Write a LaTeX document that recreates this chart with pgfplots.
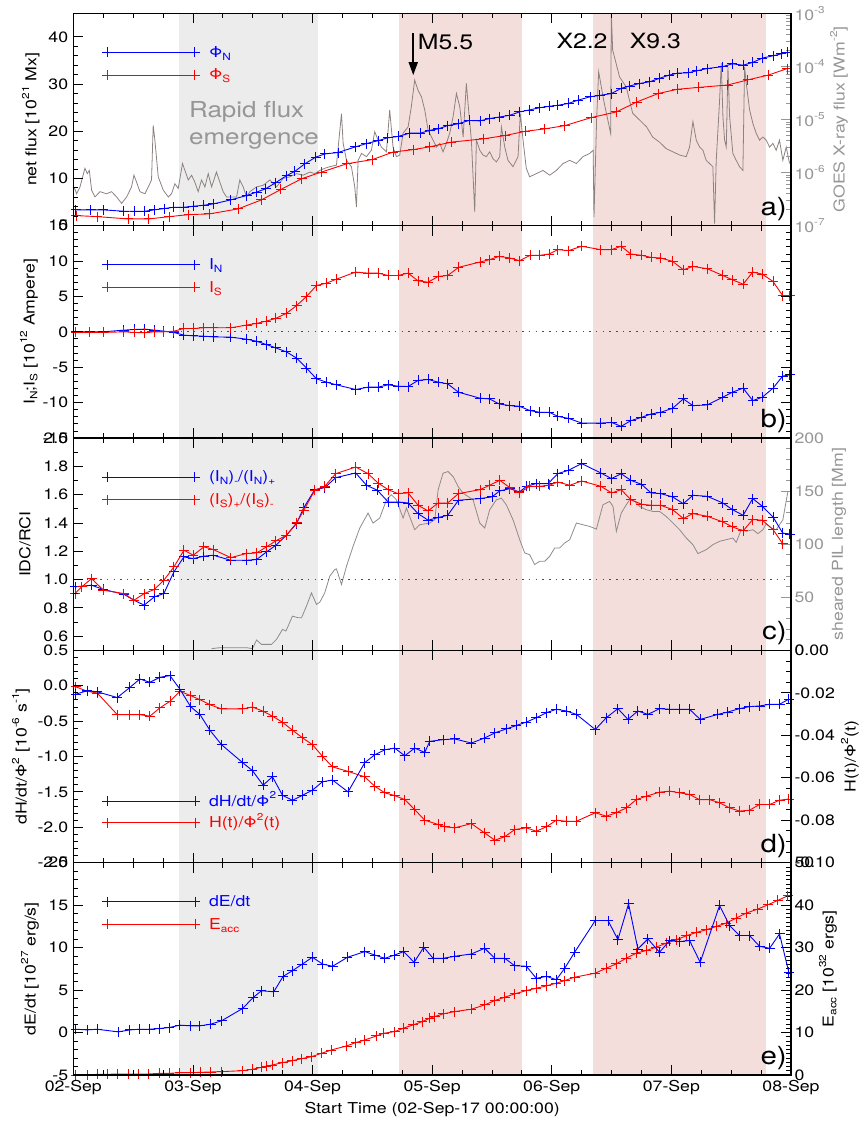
\documentclass[border=0pt]{standalone}
\usepackage{fontspec}
\setmainfont{TeX Gyre Heros}[FakeStretch=1.18]
\newfontfamily\BlueFont{TeX Gyre Heros}[FakeStretch=1.18, Color=0000FF]
\newfontfamily\RedFont{TeX Gyre Heros}[FakeStretch=1.18, Color=FF0000]
\newfontfamily\GrayFont{TeX Gyre Heros}[FakeStretch=1.18, Color=969696]
\usepackage{pgfplots}
\pgfplotsset{compat=1.18}
\usetikzlibrary{arrows.meta}

\definecolor{nblue}{RGB}{0,0,255}
\definecolor{sred}{RGB}{255,0,0}
\definecolor{bandgray}{RGB}{236,236,236}
\definecolor{bandred}{RGB}{244,222,220}
\definecolor{goesgray}{RGB}{140,130,128}
\definecolor{pilgray}{RGB}{140,140,140}
\definecolor{auxgray}{RGB}{150,150,150}

\def\ChartTickFont{\fontsize{15}{18}\selectfont}
\def\ChartBigFont{\fontsize{22}{27}\selectfont}
\def\ChartFlareFont{\fontsize{21}{25}\selectfont}
\def\ChartPanelFont{\fontsize{25}{30}\selectfont}
% small raised / lowered text without math mode
\newcommand\Sub[1]{\raisebox{-0.35ex}{\fontsize{10}{12}\selectfont #1}}
\newcommand\Sup[1]{\raisebox{0.95ex}{\fontsize{10}{12}\selectfont #1}}
\newcommand\TL[1]{\mbox{\ChartTickFont #1}}
\newcommand\GTL[1]{\mbox{\GrayFont\ChartTickFont #1}}
% tick labels of the left axis and of the time axis
\newcommand\YL[2]{\node[anchor=east, inner sep=0pt, xshift=-5pt] at (axis cs:0,#1) {\TL{#2}};}
\newcommand\XL[2]{\node[anchor=north, inner sep=0pt, yshift=-5pt] at (axis cs:#1,-5) {\TL{#2}};}

% shaded intervals: rapid emergence (gray) and flare windows (red)
\newcommand\ChartBands[2]{%
  \fill[fill=bandgray] (axis cs:0.886,#1) rectangle (axis cs:2.047,#2);
  \fill[fill=bandred]  (axis cs:2.721,#1) rectangle (axis cs:3.754,#2);
  \fill[fill=bandred]  (axis cs:4.344,#1) rectangle (axis cs:5.787,#2);}

% key: sample line from 0.284 d to 1.017 d, label starting at 1.133 d
\newcommand\KeyText[3]{\node[anchor=base west, inner sep=0pt, font=\ChartTickFont] at (axis cs:1.133,#2) {#1#3};}

\tikzset{
  nser/.style={draw=nblue, line width=0.9pt, mark=+, mark size=5pt, mark options={solid, draw=nblue, line width=0.9pt}},
  sser/.style={draw=sred, line width=0.9pt, mark=+, mark size=5pt, mark options={solid, draw=sred, line width=0.9pt}},
}

\pgfplotsset{
  panel/.style={
    scale only axis, width=717.7pt, height=212.34pt, anchor=north west,
    xmin=0, xmax=6, xtick={0,1,2,3,4,5,6}, minor x tick num=3,
    xticklabels={}, axis on top,
    /pgf/number format/assume math mode=true,
    yticklabel={\TL{\pgfmathprintnumber{\tick}}},
    label style={font=\ChartTickFont},
    axis line style={line width=1.3pt},
    major tick length=10pt, minor tick length=5pt,
    tick style={line width=0.8pt, draw=black},
  },
  leftax/.style={ytick pos=left, yticklabels={}, clip mode=individual},
  rightax/.style={xtick=\empty, ytick pos=right, yticklabel pos=right},
  gray right/.style={tick style={line width=0.8pt, draw=auxgray},
    yticklabel={\GTL{\pgfmathprintnumber{\tick}}}},
  ylab at/.style={ylabel style={at={(axis description cs:#1,0.5)}, anchor=center}},
}

\begin{document}
\begin{tikzpicture}[x=1pt,y=1pt]
\path[use as bounding box] (0,0) rectangle (863,-1125);

%% ---------------- a) net flux and GOES X-ray flux ----------------
\begin{axis}[panel, rightax, gray right, at={(73.3pt,-13.3pt)},
  ymin=-7, ymax=-3, ytick={-7,-6,-5,-4,-3},
  yticklabels={\GTL{10\Sup{-7}},\GTL{10\Sup{-6}},\GTL{10\Sup{-5}},\GTL{10\Sup{-4}},\GTL{10\Sup{-3}}},
  minor ytick={-6.699,-6.523,-6.398,-6.301,-6.222,-6.155,-6.097,-6.046,
               -5.699,-5.523,-5.398,-5.301,-5.222,-5.155,-5.097,-5.046,
               -4.699,-4.523,-4.398,-4.301,-4.222,-4.155,-4.097,-4.046,
               -3.699,-3.523,-3.398,-3.301,-3.222,-3.155,-3.097,-3.046},
  ylabel={\GrayFont GOES X-ray flux [Wm\Sup{-2}]}, ylab at=1.0669]
\ChartBands{-7}{-3}
\node[anchor=base west, inner sep=0pt, font=\ChartBigFont] at (axis cs:0.967,-4.955) {\GrayFont Rapid flux};
\node[anchor=base west, inner sep=0pt, font=\ChartBigFont] at (axis cs:0.967,-5.476) {\GrayFont emergence};
% log10 of the 1-8 A flux
\addplot[draw=goesgray, line width=0.8pt] table {
0.006 -6.27
0.028 -6.40
0.056 -6.27
0.097 -5.92
0.117 -6.02
0.134 -5.96
0.153 -6.33
0.181 -6.46
0.223 -6.36
0.278 -6.40
0.320 -6.36
0.362 -6.46
0.404 -6.58
0.446 -6.46
0.487 -6.27
0.507 -6.05
0.529 -6.18
0.557 -6.36
0.599 -6.40
0.627 -6.27
0.654 -6.14
0.668 -5.11
0.682 -5.39
0.710 -6.08
0.752 -6.33
0.794 -6.46
0.821 -6.40
0.849 -6.21
0.877 -6.30
0.913 -5.83
0.933 -5.96
0.961 -6.14
0.989 -6.05
1.016 -6.18
1.044 -6.36
1.072 -6.14
1.100 -6.27
1.128 -6.02
1.156 -6.27
1.197 -5.99
1.225 -6.18
1.253 -6.36
1.281 -6.46
1.323 -6.46
1.365 -6.46
1.392 -6.14
1.420 -6.27
1.448 -6.46
1.476 -6.36
1.532 -6.27
1.587 -6.24
1.643 -6.14
1.699 -6.27
1.754 -6.11
1.810 -6.08
1.866 -6.02
1.921 -6.05
1.977 -5.99
2.019 -6.02
2.061 -5.96
2.102 -5.92
2.144 -5.89
2.200 -5.86
2.242 -4.89
2.256 -5.45
2.284 -5.77
2.325 -5.89
2.353 -6.27
2.367 -6.65
2.381 -5.77
2.409 -5.64
2.451 -5.70
2.492 -5.58
2.520 -5.23
2.548 -5.39
2.576 -5.52
2.618 -5.61
2.645 -4.82
2.673 -5.52
2.701 -5.70
2.729 -5.67
2.757 -5.26
2.799 -5.14
2.826 -4.76
2.854 -4.26
2.882 -4.45
2.910 -4.57
2.938 -4.82
2.966 -5.20
3.008 -5.39
3.036 -5.52
3.064 -5.45
3.091 -5.61
3.119 -5.45
3.147 -5.26
3.175 -4.95
3.203 -4.51
3.231 -4.76
3.259 -5.33
3.286 -4.32
3.300 -4.70
3.328 -5.39
3.356 -6.74
3.370 -5.39
3.398 -5.58
3.425 -5.67
3.453 -5.70
3.481 -5.61
3.509 -5.74
3.537 -5.80
3.565 -5.70
3.579 -5.14
3.607 -5.52
3.634 -5.77
3.676 -5.89
3.718 -5.70
3.737 -4.89
3.760 -5.39
3.787 -5.92
3.815 -6.08
3.871 -6.02
3.927 -5.96
3.983 -6.05
4.038 -5.96
4.094 -5.83
4.150 -5.77
4.206 -5.83
4.261 -5.70
4.317 -5.64
4.346 -5.58
4.353 -6.84
4.375 -5.00
4.392 -4.10
4.434 -4.64
4.492 -5.26
4.498 -3.00
4.509 -3.69
4.567 -4.20
4.623 -4.39
4.676 -4.88
4.734 -5.01
4.793 -5.14
4.843 -5.33
4.902 -5.43
4.957 -5.55
5.013 -5.61
5.069 -5.67
5.124 -5.70
5.152 -5.52
5.180 -5.04
5.208 -5.39
5.236 -5.52
5.264 -5.58
5.291 -5.77
5.319 -5.83
5.347 -5.89
5.361 -6.96
5.375 -5.77
5.403 -4.64
5.417 -3.94
5.431 -4.95
5.445 -5.39
5.459 -5.52
5.473 -4.01
5.487 -4.95
5.514 -5.64
5.542 -5.77
5.570 -5.89
5.598 -5.96
5.612 -4.01
5.626 -4.32
5.654 -4.82
5.682 -5.08
5.709 -5.26
5.737 -5.39
5.765 -5.33
5.793 -5.39
5.821 -5.52
5.849 -5.45
5.876 -5.58
5.904 -5.39
5.932 -5.77
5.960 -5.52
5.988 -5.83
};
\end{axis}

\begin{axis}[panel, leftax, at={(73.3pt,-13.3pt)},
  ymin=0, ymax=45, ytick={0,10,20,30,40}, minor y tick num=4,
  ylabel={net flux [10\Sup{21} Mx]}, ylab at=-0.0592]
\YL{0}{0}\YL{10}{10}\YL{20}{20}\YL{30}{30}\YL{40}{40}
\addplot[nser] table {
0.022 3.34
0.145 3.34
0.251 3.34
0.423 3.05
0.515 3.05
0.599 3.05
0.677 3.34
0.758 3.62
0.841 3.90
0.925 3.90
1.003 4.10
1.092 4.33
1.170 4.60
1.317 5.46
1.449 6.38
1.532 7.10
1.607 7.80
1.691 9.10
1.783 10.6
1.852 11.5
1.936 13.1
2.025 14.5
2.103 15.2
2.214 15.5
2.359 16.7
2.451 17.4
2.548 18.0
2.627 18.6
2.715 18.9
2.813 19.6
2.902 19.6
2.980 20.2
3.050 20.5
3.130 21.2
3.220 21.6
3.310 22.3
3.400 22.2
3.480 22.7
3.560 23.0
3.650 23.4
3.730 24.1
3.810 24.5
3.900 25.0
3.980 25.3
4.050 25.5
4.140 25.9
4.220 26.6
4.320 27.3
4.400 27.6
4.500 28.0
4.580 29.1
4.650 29.6
4.730 30.1
4.820 30.5
4.900 31.2
4.980 31.9
5.050 32.3
5.140 32.4
5.210 32.8
5.300 33.3
5.430 33.7
5.510 34.3
5.600 34.0
5.680 34.6
5.760 35.5
5.850 36.0
5.920 36.4
5.970 36.7
};
\addplot[sser] table {
0.023 2.13
0.202 1.91
0.459 1.42
0.632 1.42
0.802 1.91
0.966 2.34
1.136 2.48
1.378 3.55
1.573 5.46
1.735 7.66
1.908 9.93
2.075 11.35
2.284 13.1
2.501 14.0
2.674 15.6
2.840 16.1
2.980 16.7
3.160 17.7
3.430 18.4
3.610 19.1
3.780 20.0
3.940 20.5
4.110 21.2
4.330 22.9
4.540 24.1
4.710 26.2
4.890 28.0
5.050 28.9
5.230 29.3
5.470 29.8
5.640 30.9
5.810 31.9
5.970 33.3
};
% key
\addplot[nser] coordinates {(0.284,36.74) (1.017,36.74)};
\addplot[sser] coordinates {(0.284,31.93) (1.017,31.93)};
\KeyText{\BlueFont}{35.68}{Φ\Sub{N}}
\KeyText{\RedFont}{30.87}{Φ\Sub{S}}
\draw[draw=black, fill=black, -{Triangle[width=9pt,length=13pt]}, line width=1.8pt] (axis cs:2.842,40.8) -- (axis cs:2.842,31.9);
\node[anchor=base west, inner sep=0pt, font=\ChartFlareFont] at (axis cs:2.880,37.43) {M5.5};
\node[anchor=base west, inner sep=0pt, font=\ChartFlareFont] at (axis cs:4.038,37.58) {X2.2};
\node[anchor=base west, inner sep=0pt, font=\ChartFlareFont] at (axis cs:4.651,37.58) {X9.3};
\node[anchor=south east, inner sep=0pt, xshift=-4pt, yshift=5pt, font=\ChartPanelFont] at (rel axis cs:1,0) {a)};
\end{axis}

%% ---------------- b) net currents ----------------
\begin{axis}[panel, yticklabels={}, clip mode=individual, at={(73.3pt,-225.64pt)},
  ymin=-15, ymax=15, ytick={-15,-10,-5,0,5,10,15}, minor y tick num=4,
  ylabel={I\Sub{N};I\Sub{S} [10\Sup{12} Ampere]}, ylab at=-0.0617]
\ChartBands{-15}{15}
\YL{-15}{-15}\YL{-10}{-10}\YL{-5}{-5}\YL{0}{0}\YL{5}{5}\YL{10}{10}\YL{15}{15}
\draw[draw=black!70, line width=1pt, dash pattern=on 1.5pt off 5.2pt] (axis cs:0,0) -- (axis cs:6,0);
\addplot[nser] table {
0.022 0
0.139 0
0.251 0
0.423 0.24
0.515 0.33
0.599 0.38
0.677 0.24
0.757 0.10
0.841 -0.10
0.925 -0.47
1.003 -0.57
1.092 -0.62
1.170 -0.71
1.317 -0.76
1.448 -1.04
1.532 -1.33
1.615 -1.80
1.693 -2.27
1.782 -2.84
1.866 -3.70
1.949 -5.12
2.033 -6.64
2.116 -7.11
2.200 -7.49
2.361 -8.15
2.464 -7.82
2.548 -7.82
2.632 -7.49
2.715 -7.68
2.799 -7.73
2.882 -6.87
2.966 -6.73
3.050 -7.11
3.130 -7.35
3.220 -8.53
3.400 -9.38
3.480 -9.48
3.560 -10.19
3.650 -10.43
3.730 -10.52
3.820 -11.14
3.900 -11.37
3.980 -11.37
4.050 -11.94
4.140 -12.23
4.250 -12.89
4.410 -12.89
4.500 -12.80
4.580 -13.36
4.660 -12.56
4.750 -12.09
4.830 -11.61
4.910 -11.37
5.010 -10.81
5.100 -9.48
5.180 -10.43
5.300 -10.33
5.430 -9.24
5.510 -8.53
5.600 -7.96
5.680 -9.72
5.760 -9.24
5.850 -7.96
5.930 -6.26
5.990 -6.07
};
\addplot[sser] table {
0.022 -0.09
0.139 -0.09
0.251 -0.09
0.423 0
0.515 -0.09
0.599 -0.14
0.677 0
0.757 0
0.841 0.09
0.925 0.47
1.003 0.47
1.092 0.57
1.170 0.57
1.317 0.57
1.448 0.95
1.532 1.18
1.615 1.52
1.693 1.90
1.782 2.61
1.866 3.70
1.949 4.98
2.033 6.54
2.116 6.87
2.200 7.44
2.361 8.44
2.464 8.29
2.548 8.29
2.632 7.96
2.715 7.96
2.799 8.29
2.882 7.20
2.966 7.01
3.050 7.82
3.130 7.96
3.220 9.10
3.400 9.86
3.480 10.19
3.560 10.66
3.650 10.43
3.730 10.05
3.820 10.81
3.900 10.81
3.980 11.00
4.050 11.61
4.140 11.47
4.250 12.09
4.410 11.61
4.500 11.61
4.580 12.09
4.660 11.00
4.750 10.81
4.830 10.52
4.910 10.43
5.010 9.95
5.100 8.77
5.180 9.24
5.300 8.91
5.430 7.96
5.510 7.35
5.600 6.73
5.680 8.44
5.760 8.15
5.850 7.11
5.930 5.12
5.990 5.12
};
% key
\addplot[nser] coordinates {(0.284,9.49) (1.017,9.49)};
\addplot[sser] coordinates {(0.284,6.28) (1.017,6.28)};
\KeyText{\BlueFont}{8.78}{I\Sub{N}}
\KeyText{\RedFont}{5.58}{I\Sub{S}}
\node[anchor=south east, inner sep=0pt, xshift=-4pt, yshift=5pt, font=\ChartPanelFont] at (rel axis cs:1,0) {b)};
\end{axis}

%% ---------------- c) current neutralisation and sheared PIL ----------------
\begin{axis}[panel, rightax, gray right, at={(73.3pt,-437.98pt)},
  ymin=0, ymax=200, ytick={0,50,100,150,200}, minor y tick num=4,
  ylabel={\GrayFont sheared PIL length [Mm]}, ylab at=1.0669]
\ChartBands{0}{200}
\addplot[draw=pilgray, line width=0.8pt] table {
1.156 1.6
1.225 2.5
1.337 2.5
1.448 2.5
1.498 1.6
1.532 9.7
1.573 5.6
1.657 5.6
1.699 10.3
1.749 19.7
1.777 18.2
1.796 22.8
1.832 32.2
1.880 30.7
1.908 30.7
1.949 41.6
1.991 54.1
2.033 43.2
2.061 45.4
2.102 54.1
2.144 69.8
2.186 76.1
2.200 76.7
2.242 62.0
2.284 79.2
2.339 98.0
2.395 115.2
2.464 129.3
2.506 119.9
2.562 124.6
2.618 141.8
2.659 146.5
2.701 141.8
2.757 124.6
2.785 134.0
2.854 113.6
2.896 118.3
2.980 119.9
3.022 123.0
3.050 151.2
3.091 166.8
3.133 168.4
3.175 163.7
3.217 154.3
3.259 148.0
3.300 144.9
3.342 141.8
3.398 119.9
3.440 115.2
3.481 132.4
3.537 141.8
3.579 143.3
3.620 137.1
3.676 123.0
3.732 104.2
3.774 91.7
3.815 90.1
3.857 80.8
3.899 83.9
3.941 83.9
3.983 88.6
4.024 96.4
4.066 96.4
4.108 101.1
4.150 104.2
4.206 119.9
4.261 118.3
4.317 116.7
4.373 114.2
4.428 137.1
4.484 140.2
4.512 135.5
4.540 112.1
4.581 129.3
4.623 137.1
4.651 141.8
4.693 140.2
4.735 135.5
4.790 132.4
4.846 130.8
4.902 130.8
4.957 126.1
5.013 119.9
5.069 113.6
5.124 105.8
5.180 99.5
5.222 91.1
5.291 94.8
5.347 99.5
5.403 102.7
5.459 104.2
5.514 105.8
5.542 101.7
5.584 113.6
5.626 112.1
5.682 113.6
5.723 109.9
5.765 113.6
5.793 119.2
5.835 115.2
5.876 113.6
5.932 123.0
5.974 149.6
};
\end{axis}

\begin{axis}[panel, leftax, at={(73.3pt,-437.98pt)},
  ymin=0.5, ymax=2.0, ytick={0.6,0.8,1.0,1.2,1.4,1.6,1.8,2.0}, minor y tick num=1,
  ylabel={IDC/RCI}, ylab at=-0.0673]
\YL{0.6}{0.6}\YL{0.8}{0.8}\YL{1.0}{1.0}\YL{1.2}{1.2}\YL{1.4}{1.4}\YL{1.6}{1.6}\YL{1.8}{1.8}\YL{2.0}{2.0}
\draw[draw=black!70, line width=1pt, dash pattern=on 1.5pt off 5.2pt] (axis cs:0,1) -- (axis cs:6,1);
\addplot[nser] table {
0.014 0.948
0.153 0.960
0.251 0.930
0.423 0.896
0.507 0.854
0.593 0.819
0.677 0.878
0.757 0.901
0.841 1.054
0.925 1.160
1.003 1.148
1.092 1.165
1.170 1.172
1.317 1.136
1.448 1.136
1.532 1.141
1.615 1.195
1.693 1.242
1.782 1.313
1.866 1.395
1.927 1.508
2.019 1.635
2.102 1.649
2.194 1.720
2.361 1.753
2.451 1.666
2.542 1.631
2.632 1.548
2.715 1.548
2.799 1.541
2.882 1.466
2.966 1.419
3.050 1.438
3.130 1.454
3.220 1.560
3.400 1.572
3.500 1.584
3.565 1.626
3.650 1.642
3.730 1.619
3.790 1.659
3.870 1.678
3.970 1.678
4.050 1.748
4.140 1.772
4.250 1.819
4.410 1.753
4.500 1.713
4.580 1.748
4.660 1.701
4.750 1.673
4.830 1.612
4.910 1.607
5.010 1.584
5.100 1.536
5.180 1.595
5.300 1.588
5.430 1.541
5.510 1.494
5.600 1.454
5.680 1.572
5.760 1.518
5.850 1.442
5.930 1.329
5.990 1.320
};
\addplot[sser] table {
0.014 0.901
0.070 0.948
0.153 1.007
0.251 0.925
0.423 0.901
0.507 0.854
0.593 0.901
0.677 0.930
0.757 0.995
0.841 1.089
0.925 1.207
1.003 1.172
1.092 1.231
1.170 1.212
1.317 1.155
1.448 1.184
1.532 1.188
1.615 1.231
1.693 1.273
1.782 1.313
1.866 1.400
1.927 1.489
2.019 1.631
2.102 1.659
2.194 1.748
2.361 1.795
2.464 1.748
2.548 1.682
2.632 1.635
2.715 1.607
2.799 1.612
2.882 1.525
2.966 1.485
3.050 1.541
3.130 1.541
3.220 1.607
3.400 1.635
3.480 1.666
3.565 1.701
3.650 1.649
3.730 1.612
3.815 1.659
3.900 1.659
3.980 1.666
4.050 1.689
4.150 1.666
4.250 1.696
4.410 1.659
4.500 1.612
4.580 1.635
4.660 1.565
4.750 1.532
4.830 1.525
4.910 1.525
5.010 1.494
5.100 1.431
5.180 1.466
5.300 1.447
5.430 1.407
5.510 1.372
5.600 1.344
5.680 1.424
5.760 1.419
5.850 1.353
5.930 1.254
};
% key
\addplot[nser] coordinates {(0.284,1.7245) (1.017,1.7245)};
\addplot[sser] coordinates {(0.284,1.5641) (1.017,1.5641)};
\KeyText{\BlueFont}{1.6892}{(I\Sub{N})\Sub{-}/(I\Sub{N})\Sub{+}}
\KeyText{\RedFont}{1.5288}{(I\Sub{S})\Sub{+}/(I\Sub{S})\Sub{-}}
\node[anchor=south east, inner sep=0pt, xshift=-4pt, yshift=5pt, font=\ChartPanelFont] at (rel axis cs:1,0) {c)};
\end{axis}

%% ---------------- d) helicity ----------------
\begin{axis}[panel, rightax, at={(73.3pt,-650.32pt)},
  ymin=-0.10, ymax=0, ytick={-0.10,-0.08,-0.06,-0.04,-0.02,0}, minor y tick num=3,
  yticklabel style={/pgf/number format/.cd, fixed, fixed zerofill, precision=2},
  ylabel={H(t)/Φ\Sup{2}(t)}, ylab at=1.0822]
\ChartBands{-0.1}{0}
\addplot[sser] table {
0.022 -0.0172
0.117 -0.0193
0.200 -0.0201
0.368 -0.0303
0.473 -0.0303
0.557 -0.0303
0.640 -0.0310
0.724 -0.0271
0.808 -0.0240
0.891 -0.0193
0.980 -0.0213
1.058 -0.0232
1.142 -0.0256
1.239 -0.0276
1.415 -0.0276
1.498 -0.0267
1.587 -0.0287
1.665 -0.0310
1.749 -0.0339
1.832 -0.0376
1.916 -0.0412
1.999 -0.0444
2.083 -0.0499
2.167 -0.0549
2.297 -0.0570
2.437 -0.0596
2.520 -0.0640
2.604 -0.0671
2.687 -0.0684
2.771 -0.0703
2.854 -0.0750
2.938 -0.0800
3.050 -0.0820
3.105 -0.0831
3.189 -0.0836
3.328 -0.0816
3.439 -0.0860
3.523 -0.0894
3.607 -0.0878
3.690 -0.0844
3.788 -0.0836
3.871 -0.0852
3.955 -0.0831
4.038 -0.0800
4.122 -0.0805
4.206 -0.0805
4.364 -0.0765
4.456 -0.0781
4.540 -0.0765
4.623 -0.0742
4.707 -0.0703
4.790 -0.0687
4.901 -0.0668
4.985 -0.0663
5.068 -0.0671
5.152 -0.0679
5.236 -0.0703
5.319 -0.0703
5.403 -0.0718
5.487 -0.0742
5.570 -0.0757
5.653 -0.0753
5.737 -0.0726
5.821 -0.0726
5.904 -0.0706
5.982 -0.0700
};
\end{axis}

\begin{axis}[panel, leftax, at={(73.3pt,-650.32pt)},
  ymin=-2.5, ymax=0.5, ytick={-2.5,-2.0,-1.5,-1.0,-0.5,0,0.5}, minor y tick num=4,
  ylabel={dH/dt/Φ\Sup{2} [10\Sup{-6} s\Sup{-1}]}, ylab at=-0.0729]
\YL{-2.5}{-2.5}\YL{-2.0}{-2.0}\YL{-1.5}{-1.5}\YL{-1.0}{-1.0}\YL{-0.5}{-0.5}\YL{0}{0.0}\YL{0.5}{0.5}
\addplot[nser] table {
0.022 -0.119
0.117 -0.071
0.200 -0.086
0.368 -0.167
0.473 -0.024
0.557 0.095
0.640 0.048
0.724 0.119
0.808 0.143
0.891 -0.048
0.980 -0.295
1.058 -0.405
1.142 -0.629
1.239 -0.833
1.415 -1.086
1.498 -1.200
1.587 -1.405
1.665 -1.286
1.749 -1.548
1.832 -1.619
1.916 -1.548
1.999 -1.476
2.083 -1.357
2.167 -1.333
2.297 -1.500
2.437 -1.086
2.520 -0.976
2.604 -0.905
2.687 -0.881
2.771 -0.990
2.854 -0.881
2.938 -0.943
2.980 -0.786
3.091 -0.762
3.189 -0.752
3.328 -0.810
3.439 -0.738
3.523 -0.667
3.620 -0.610
3.704 -0.562
3.788 -0.514
3.871 -0.452
3.955 -0.381
4.038 -0.333
4.122 -0.357
4.206 -0.405
4.364 -0.619
4.456 -0.452
4.553 -0.324
4.637 -0.476
4.720 -0.357
4.804 -0.405
4.901 -0.324
4.985 -0.333
5.068 -0.333
5.152 -0.333
5.241 -0.476
5.389 -0.405
5.472 -0.371
5.570 -0.324
5.653 -0.295
5.737 -0.286
5.821 -0.262
5.904 -0.262
5.982 -0.190
};
% key
\addplot[nser] coordinates {(0.284,-1.6334) (1.017,-1.6334)};
\addplot[sser] coordinates {(0.284,-1.9386) (1.017,-1.9386)};
\KeyText{\BlueFont}{-1.704}{dH/dt/Φ\Sup{2}}
\KeyText{\RedFont}{-2.0092}{H(t)/Φ\Sup{2}(t)}
\node[anchor=south east, inner sep=0pt, xshift=-4pt, yshift=5pt, font=\ChartPanelFont] at (rel axis cs:1,0) {d)};
\end{axis}

%% ---------------- e) energy ----------------
\begin{axis}[panel, rightax, at={(73.3pt,-862.66pt)},
  ymin=0, ymax=50, ytick={0,10,20,30,40,50}, minor y tick num=9,
  ylabel={E\Sub{acc} [10\Sup{32} ergs]}, ylab at=1.0516]
\ChartBands{0}{50}
\addplot[sser] table {
0.022 0
0.117 0
0.200 0.16
0.284 0.16
0.368 0.24
0.459 0.24
0.543 0.24
0.627 0.24
0.718 0.39
0.802 0.39
0.891 0.55
0.980 0.55
1.064 0.63
1.147 0.71
1.239 0.79
1.415 1.02
1.498 1.34
1.573 1.81
1.615 2.12
1.665 2.36
1.749 2.91
1.832 3.38
1.908 3.85
1.991 4.32
2.075 5.11
2.158 5.90
2.284 6.84
2.361 7.63
2.437 8.25
2.534 9.20
2.595 9.83
2.687 10.22
2.757 11.00
2.840 11.79
2.918 12.58
2.980 13.36
3.022 13.76
3.091 14.39
3.189 14.94
3.328 15.49
3.439 16.51
3.523 17.53
3.607 18.32
3.690 19.10
3.788 19.89
3.871 20.44
3.955 20.99
4.038 21.62
4.108 22.25
4.191 23.03
4.364 23.98
4.456 25.16
4.540 26.18
4.623 27.52
4.707 28.69
4.790 29.32
4.874 30.11
4.957 31.05
5.041 31.84
5.124 32.78
5.208 33.57
5.291 34.20
5.375 34.98
5.459 35.77
5.542 36.95
5.626 38.13
5.723 39.07
5.807 40.09
5.890 41.12
5.974 42.22
};
\end{axis}

\begin{axis}[panel, leftax, at={(73.3pt,-862.66pt)},
  ymin=-5, ymax=20, ytick={-5,0,5,10,15,20}, minor y tick num=4,
  xlabel={Start Time (02-Sep-17 00:00:00)},
  xlabel style={at={(axis description cs:0.5,0)}, anchor=center, yshift=-35pt},
  ylabel={dE/dt [10\Sup{27} erg/s]}, ylab at=-0.0603]
\YL{-5}{-5}\YL{0}{0}\YL{5}{5}\YL{10}{10}\YL{15}{15}\YL{20}{20}
\XL{0}{02-Sep}\XL{1}{03-Sep}\XL{2}{04-Sep}\XL{3}{05-Sep}\XL{4}{06-Sep}\XL{5}{07-Sep}\XL{6}{08-Sep}
\addplot[nser] table {
0.022 0.39
0.117 0.31
0.200 0.39
0.376 0.08
0.473 0.31
0.557 0.39
0.640 0.39
0.718 0.47
0.802 0.59
0.891 0.87
0.980 0.79
1.058 0.79
1.147 0.98
1.239 1.38
1.415 2.83
1.504 4.13
1.573 4.92
1.676 4.80
1.754 6.61
1.832 7.28
1.916 8.07
1.999 8.86
2.083 8.07
2.167 7.80
2.292 8.86
2.437 9.53
2.520 9.13
2.604 8.74
2.687 9.13
2.762 9.53
2.849 8.27
2.930 10.04
3.008 8.74
3.091 8.74
3.189 8.98
3.328 9.25
3.439 9.92
3.523 8.74
3.607 8.74
3.690 7.87
3.788 7.80
3.871 6.38
3.955 6.61
4.038 6.22
4.108 7.56
4.191 9.45
4.364 13.19
4.470 13.19
4.553 10.94
4.642 15.16
4.720 9.84
4.804 11.02
4.901 9.45
4.985 10.83
5.068 10.71
5.152 10.83
5.241 8.27
5.403 14.96
5.487 12.60
5.570 11.42
5.653 11.42
5.737 10.16
5.821 9.92
5.904 11.61
5.982 7.09
};
% key
\addplot[nser] coordinates {(0.284,15.408) (1.017,15.408)};
\addplot[sser] coordinates {(0.284,12.736) (1.017,12.736)};
\KeyText{\BlueFont}{14.82}{dE/dt}
\KeyText{\RedFont}{12.147}{E\Sub{acc}}
\node[anchor=south east, inner sep=0pt, xshift=-4pt, yshift=5pt, font=\ChartPanelFont] at (rel axis cs:1,0) {e)};
\end{axis}
\end{tikzpicture}
\end{document}
